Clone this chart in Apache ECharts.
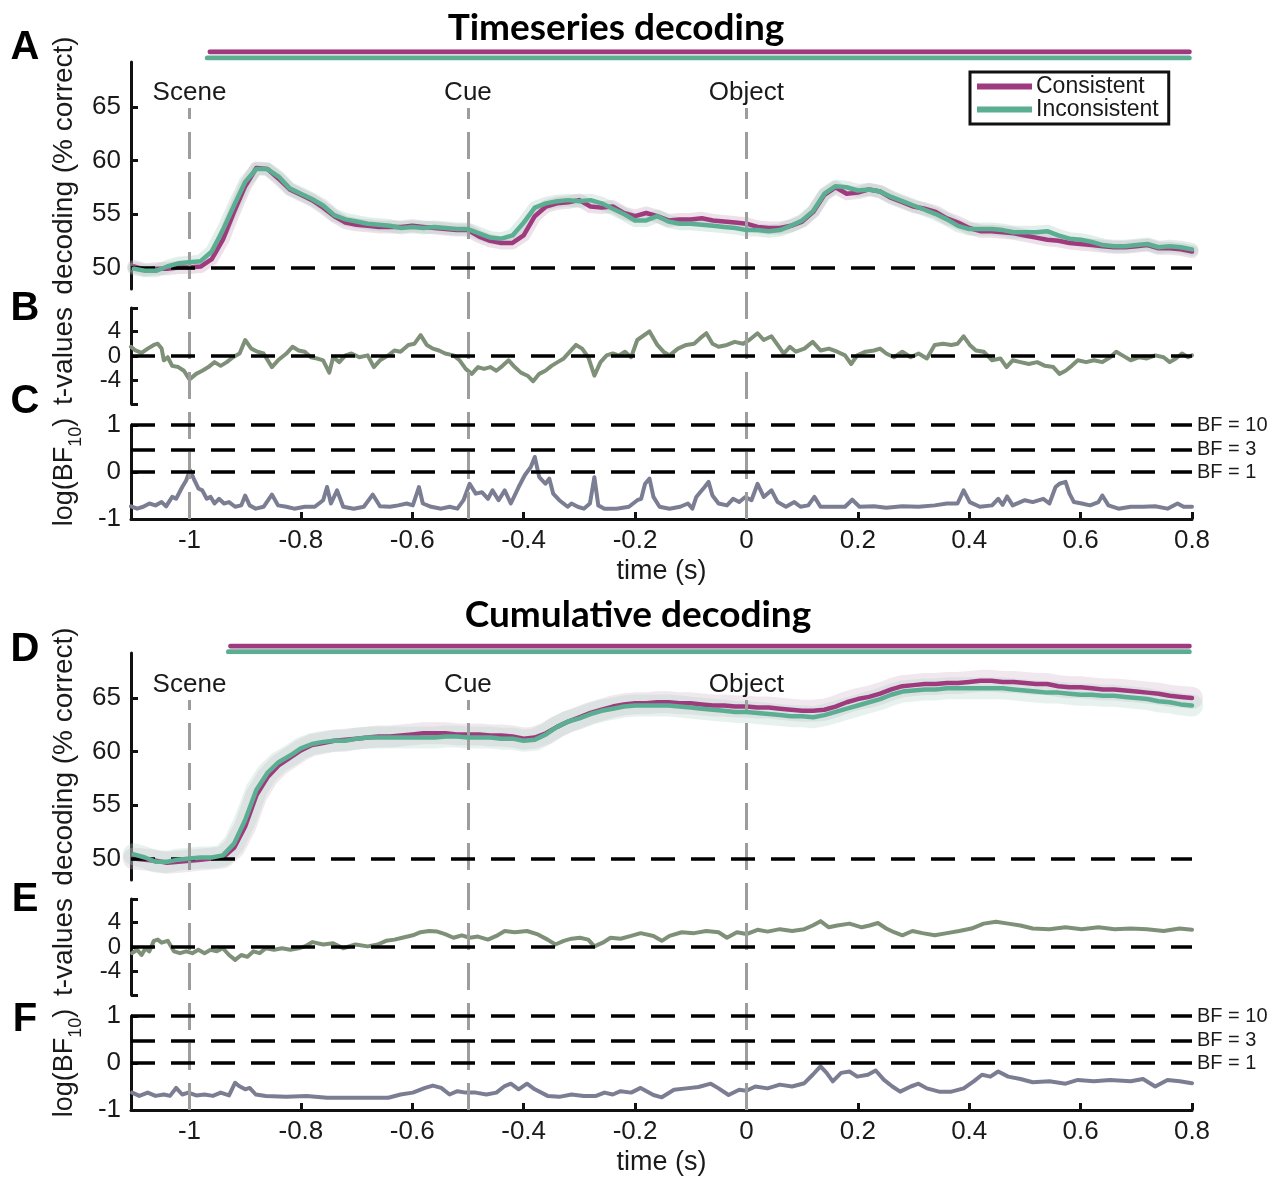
<!DOCTYPE html>
<html><head><meta charset="utf-8">
<script src="https://cdn.jsdelivr.net/npm/echarts@6/dist/echarts.min.js"></script>
<style>html,body{margin:0;padding:0;background:#fff}#c{width:1279px;height:1178px}</style>
</head><body><div id="c"></div>
<script>
// ---------------- DATA ----------------
const seriesNames = ['Consistent', 'Inconsistent'];
const eventTimes = [-1, -0.5, 0];
const eventNames = ['Scene', 'Cue', 'Object'];
const xTicks = [-1, -0.8, -0.6, -0.4, -0.2, 0, 0.2, 0.4, 0.6, 0.8];
const decodingTicks = [50, 55, 60, 65];
const tTicks = [-4, 0, 4];
const bfTicks = [-1, 0, 1];
const bfLevels = [1, 3, 10];
const chanceLevel = 50;

// significance periods [start, end] in s
const sigTimeseriesConsistent = [-0.963, 0.795];
const sigTimeseriesInconsistent = [-0.968, 0.795];
const sigCumulativeConsistent = [-0.926, 0.795];
const sigCumulativeInconsistent = [-0.930, 0.795];

// decoding time grid (s): -1.10 .. 0.80, step 0.02
const timeGrid = [];
for (let i = 0; i < 96; i++) timeGrid.push(+(-1.10 + 0.02 * i).toFixed(2));

// A: timeseries decoding (% correct)
const tsConsistent = [
  50.1, 49.8, 49.9, 49.9, 50.0, 50.0, 50.1, 50.8, 52.6, 55.2,
  57.6, 59.3, 59.2, 58.3, 57.3, 56.8, 56.3, 55.6, 54.8, 54.2,
  54.0, 53.9, 53.8, 53.8, 53.8, 53.9, 53.8, 53.7, 53.6, 53.5,
  53.5, 52.9, 52.5, 52.3, 52.3, 53.0, 54.8, 55.7, 56.0, 56.1,
  56.3, 55.7, 55.6, 55.7, 55.1, 54.8, 55.1, 54.8, 54.4, 54.5,
  54.5, 54.6, 54.4, 54.3, 54.2, 54.1, 53.8, 53.7, 53.7, 53.9,
  54.3, 55.2, 56.8, 57.5, 56.9, 57.0, 57.3, 57.1, 56.5, 56.1,
  55.7, 55.5, 55.2, 54.6, 54.2, 53.7, 53.4, 53.4, 53.3, 53.2,
  53.0, 52.8, 52.6, 52.5, 52.3, 52.2, 52.1, 52.0, 51.9, 51.9,
  52.0, 52.1, 51.8, 51.8, 51.7, 51.5];
const tsInconsistent = [
  49.9, 49.7, 49.7, 50.1, 50.4, 50.5, 50.6, 51.5, 53.5, 55.8,
  58.0, 59.2, 59.2, 58.5, 57.4, 56.9, 56.4, 55.8, 54.9, 54.5,
  54.3, 54.1, 54.0, 53.9, 53.7, 53.8, 53.7, 53.8, 53.7, 53.6,
  53.6, 53.2, 52.8, 52.7, 53.0, 54.2, 55.6, 56.0, 56.2, 56.3,
  56.2, 56.3, 56.0, 55.5, 55.0, 54.4, 54.4, 54.8, 54.3, 54.1,
  54.1, 54.0, 53.9, 53.8, 53.7, 53.5, 53.5, 53.4, 53.5, 53.9,
  54.4, 55.3, 56.9, 57.6, 57.5, 57.2, 57.3, 57.1, 56.6, 56.2,
  55.8, 55.4, 55.0, 54.5, 53.9, 53.6, 53.6, 53.6, 53.5, 53.3,
  53.3, 53.3, 53.4, 53.0, 52.7, 52.6, 52.4, 52.1, 52.0, 52.0,
  52.1, 52.2, 51.9, 52.0, 51.9, 51.7];

// D: cumulative decoding (% correct)
const cumConsistent = [
  50.0, 49.9, 49.8, 49.6, 49.7, 49.8, 49.9, 50.0, 50.1, 51.0,
  53.0, 55.9, 57.6, 58.7, 59.4, 60.1, 60.6, 60.8, 61.0, 61.1,
  61.2, 61.3, 61.4, 61.4, 61.5, 61.6, 61.7, 61.7, 61.7, 61.6,
  61.6, 61.6, 61.5, 61.5, 61.4, 61.2, 61.3, 61.7, 62.3, 62.8,
  63.2, 63.6, 63.9, 64.2, 64.4, 64.5, 64.5, 64.6, 64.6, 64.5,
  64.5, 64.4, 64.3, 64.3, 64.2, 64.2, 64.1, 64.1, 64.0, 63.9,
  63.8, 63.8, 63.9, 64.2, 64.6, 64.9, 65.1, 65.4, 65.8, 66.1,
  66.2, 66.3, 66.3, 66.4, 66.4, 66.5, 66.6, 66.6, 66.5, 66.5,
  66.4, 66.3, 66.3, 66.1, 66.0, 66.0, 65.9, 65.8, 65.8, 65.7,
  65.6, 65.5, 65.4, 65.2, 65.1, 65.0];
const cumInconsistent = [
  50.4, 50.1, 49.7, 49.7, 49.9, 50.0, 50.1, 50.1, 50.3, 51.4,
  53.6, 56.4, 58.0, 59.0, 59.6, 60.3, 60.7, 60.9, 61.0, 61.0,
  61.2, 61.3, 61.3, 61.3, 61.3, 61.3, 61.3, 61.3, 61.4, 61.4,
  61.3, 61.3, 61.3, 61.2, 61.2, 61.0, 61.1, 61.6, 62.3, 62.8,
  63.1, 63.5, 63.8, 64.0, 64.2, 64.3, 64.3, 64.3, 64.3, 64.2,
  64.1, 64.0, 63.9, 63.8, 63.7, 63.7, 63.6, 63.5, 63.4, 63.3,
  63.3, 63.2, 63.4, 63.7, 64.0, 64.3, 64.6, 64.9, 65.3, 65.6,
  65.7, 65.8, 65.8, 65.9, 65.9, 65.9, 65.9, 65.9, 65.9, 65.8,
  65.7, 65.6, 65.5, 65.5, 65.4, 65.3, 65.3, 65.2, 65.2, 65.1,
  65.0, 64.9, 64.7, 64.6, 64.4, 64.3];

// B: t-values timeseries [time, t]
const tValuesTS = [
  [-1.105,1.5],[-1.097,0.9],[-1.086,0.5],[-1.075,1.2],[-1.064,1.8],[-1.057,2.0],[-1.050,1.2],[-1.046,-0.7],[-1.039,-0.2],[-1.031,-1.6],
  [-1.020,-1.8],[-1.010,-2.4],[-1.000,-3.8],[-0.988,-2.9],[-0.977,-2.4],[-0.966,-1.8],[-0.955,-1.0],[-0.944,-1.6],[-0.933,-1.0],[-0.922,-0.2],
  [-0.910,0.4],[-0.900,2.6],[-0.889,1.2],[-0.878,0.7],[-0.867,0.4],[-0.852,-1.8],[-0.841,-0.7],[-0.826,0.4],[-0.815,1.5],[-0.804,0.9],
  [-0.793,0.7],[-0.782,-0.2],[-0.771,-0.4],[-0.760,-0.7],[-0.749,-2.7],[-0.742,-0.2],[-0.731,-1.0],[-0.720,0.1],[-0.709,0.4],[-0.695,-0.2],
  [-0.680,0.1],[-0.669,-1.8],[-0.658,-0.7],[-0.643,0.1],[-0.632,0.9],[-0.621,0.7],[-0.607,1.8],[-0.596,2.0],[-0.585,3.4],[-0.574,1.8],
  [-0.563,1.2],[-0.552,0.9],[-0.541,0.4],[-0.526,0.1],[-0.515,-0.7],[-0.504,-2.1],[-0.493,-2.9],[-0.482,-1.8],[-0.471,-2.1],[-0.460,-1.8],
  [-0.449,-2.4],[-0.438,-1.6],[-0.427,-0.7],[-0.416,-1.8],[-0.405,-2.7],[-0.393,-3.2],[-0.383,-4.1],[-0.372,-2.9],[-0.361,-2.4],[-0.350,-1.6],
  [-0.339,-1.0],[-0.328,-0.4],[-0.317,0.7],[-0.306,1.8],[-0.295,1.2],[-0.284,-0.2],[-0.273,-3.2],[-0.262,-1.0],[-0.251,0.1],[-0.240,0.4],
  [-0.229,0.1],[-0.218,0.7],[-0.207,-0.2],[-0.196,2.6],[-0.174,4.0],[-0.160,1.8],[-0.149,0.7],[-0.138,0.1],[-0.123,1.2],[-0.108,1.8],
  [-0.094,2.0],[-0.083,2.9],[-0.072,3.7],[-0.061,2.0],[-0.050,1.5],[-0.035,1.8],[-0.021,2.3],[-0.006,2.0],[0.005,2.6],[0.020,3.7],
  [0.031,2.6],[0.045,3.2],[0.056,1.8],[0.067,0.4],[0.078,1.5],[0.089,0.7],[0.104,1.2],[0.119,2.3],[0.133,0.9],[0.148,1.2],
  [0.163,0.7],[0.177,0.1],[0.188,-1.3],[0.199,0.1],[0.214,0.7],[0.229,0.9],[0.240,1.2],[0.251,0.4],[0.265,-0.2],[0.280,0.7],
  [0.295,-0.2],[0.309,0.4],[0.324,-0.4],[0.338,1.8],[0.353,2.0],[0.368,1.8],[0.379,2.0],[0.390,3.2],[0.401,1.8],[0.412,0.9],
  [0.426,0.7],[0.441,-0.7],[0.456,-0.4],[0.467,-1.8],[0.478,-0.7],[0.492,-1.0],[0.507,-1.3],[0.522,-1.0],[0.536,-1.6],[0.551,-1.8],
  [0.562,-2.9],[0.573,-2.4],[0.584,-1.6],[0.595,-0.7],[0.610,-1.0],[0.624,-0.7],[0.639,-1.0],[0.653,-0.2],[0.664,0.7],[0.675,0.1],
  [0.690,-0.7],[0.705,-0.2],[0.719,-0.4],[0.734,0.1],[0.749,-0.2],[0.760,-1.0],[0.771,-0.4],[0.782,0.4],[0.793,-0.2],[0.800,0.1]];

// C: log(BF10) timeseries [time, logBF]
const logBFTS = [
  [-1.105,-0.73],[-1.094,-0.78],[-1.083,-0.74],[-1.072,-0.67],[-1.061,-0.71],[-1.050,-0.64],[-1.042,-0.73],[-1.031,-0.53],[-1.024,-0.57],[-1.013,-0.32],
  [-1.006,-0.18],[-0.999,0.04],[-0.991,-0.18],[-0.984,-0.35],[-0.977,-0.39],[-0.969,-0.57],[-0.962,-0.53],[-0.955,-0.67],[-0.947,-0.57],[-0.938,-0.67],
  [-0.929,-0.64],[-0.918,-0.74],[-0.907,-0.71],[-0.900,-0.50],[-0.892,-0.71],[-0.881,-0.78],[-0.867,-0.74],[-0.852,-0.48],[-0.841,-0.71],[-0.826,-0.74],
  [-0.812,-0.78],[-0.793,-0.74],[-0.775,-0.74],[-0.760,-0.60],[-0.753,-0.32],[-0.746,-0.67],[-0.735,-0.39],[-0.724,-0.74],[-0.705,-0.78],[-0.687,-0.74],
  [-0.671,-0.48],[-0.658,-0.73],[-0.640,-0.74],[-0.625,-0.71],[-0.610,-0.67],[-0.599,-0.71],[-0.588,-0.32],[-0.581,-0.67],[-0.566,-0.74],[-0.548,-0.78],
  [-0.533,-0.74],[-0.519,-0.78],[-0.508,-0.60],[-0.497,-0.25],[-0.486,-0.46],[-0.475,-0.43],[-0.464,-0.57],[-0.456,-0.39],[-0.445,-0.60],[-0.434,-0.39],
  [-0.423,-0.67],[-0.409,-0.32],[-0.398,-0.07],[-0.387,0.11],[-0.380,0.32],[-0.372,-0.11],[-0.361,-0.25],[-0.354,-0.14],[-0.347,-0.46],[-0.336,-0.60],
  [-0.321,-0.74],[-0.314,-0.67],[-0.303,-0.74],[-0.292,-0.78],[-0.281,-0.67],[-0.273,-0.11],[-0.266,-0.71],[-0.255,-0.78],[-0.233,-0.78],[-0.211,-0.74],
  [-0.196,-0.60],[-0.189,-0.57],[-0.182,-0.25],[-0.174,-0.14],[-0.167,-0.53],[-0.156,-0.74],[-0.138,-0.78],[-0.119,-0.74],[-0.105,-0.67],[-0.097,-0.78],
  [-0.090,-0.53],[-0.083,-0.43],[-0.075,-0.32],[-0.068,-0.21],[-0.061,-0.50],[-0.050,-0.67],[-0.035,-0.71],[-0.024,-0.57],[-0.013,-0.64],[-0.002,-0.53],
  [0.009,-0.60],[0.020,-0.25],[0.031,-0.53],[0.045,-0.39],[0.056,-0.64],[0.071,-0.74],[0.086,-0.64],[0.097,-0.74],[0.111,-0.71],[0.122,-0.53],
  [0.133,-0.74],[0.155,-0.74],[0.177,-0.74],[0.190,-0.59],[0.203,-0.74],[0.229,-0.73],[0.251,-0.76],[0.280,-0.73],[0.309,-0.74],[0.338,-0.71],
  [0.360,-0.67],[0.379,-0.67],[0.390,-0.39],[0.401,-0.64],[0.419,-0.74],[0.441,-0.71],[0.452,-0.57],[0.460,-0.70],[0.468,-0.52],[0.478,-0.71],
  [0.500,-0.60],[0.514,-0.64],[0.533,-0.57],[0.544,-0.67],[0.555,-0.32],[0.562,-0.25],[0.573,-0.21],[0.580,-0.46],[0.588,-0.64],[0.602,-0.67],
  [0.617,-0.71],[0.632,-0.64],[0.639,-0.50],[0.650,-0.71],[0.668,-0.78],[0.690,-0.74],[0.712,-0.74],[0.734,-0.73],[0.756,-0.78],[0.774,-0.67],
  [0.785,-0.74],[0.800,-0.74]];

// E: t-values cumulative [time, t]
const tValuesCum = [
  [-1.103,-1.0],[-1.094,-0.45],[-1.086,-1.3],[-1.079,-0.2],[-1.072,-0.7],[-1.064,1.0],[-1.057,1.2],[-1.050,0.7],[-1.039,1.0],[-1.028,-0.7],
  [-1.017,-1.0],[-1.006,-0.7],[-0.995,-1.0],[-0.984,-0.45],[-0.973,-1.0],[-0.962,-0.45],[-0.951,-0.7],[-0.940,-0.2],[-0.929,-1.3],[-0.918,-2.1],
  [-0.907,-1.3],[-0.896,-1.6],[-0.885,-0.7],[-0.874,-1.0],[-0.863,-0.2],[-0.848,-0.45],[-0.834,-0.2],[-0.819,-0.45],[-0.804,-0.2],[-0.793,0.1],
  [-0.779,0.8],[-0.760,0.4],[-0.742,0.6],[-0.724,-0.2],[-0.702,0.4],[-0.680,0.1],[-0.662,0.4],[-0.647,1.0],[-0.632,1.2],[-0.618,1.5],
  [-0.599,1.9],[-0.585,2.4],[-0.570,2.6],[-0.555,2.5],[-0.541,2.1],[-0.526,1.5],[-0.511,1.9],[-0.497,1.5],[-0.482,1.7],[-0.464,1.2],
  [-0.449,1.8],[-0.434,2.6],[-0.416,2.4],[-0.394,2.6],[-0.376,2.1],[-0.357,1.2],[-0.343,0.4],[-0.328,1.0],[-0.314,1.35],[-0.299,1.5],
  [-0.284,1.2],[-0.273,0.1],[-0.258,0.7],[-0.244,1.5],[-0.226,1.35],[-0.207,1.8],[-0.190,2.25],[-0.167,1.8],[-0.152,1.0],[-0.138,1.8],
  [-0.116,2.4],[-0.094,2.25],[-0.072,2.6],[-0.050,2.4],[-0.035,1.5],[-0.017,2.4],[0.000,2.1],[0.020,2.8],[0.038,2.5],[0.060,2.9],
  [0.082,2.6],[0.104,2.9],[0.119,3.5],[0.133,4.2],[0.148,3.2],[0.163,3.5],[0.185,3.8],[0.207,3.2],[0.221,3.5],[0.236,3.9],
  [0.251,3.0],[0.265,2.4],[0.280,1.9],[0.298,2.6],[0.316,2.25],[0.338,1.9],[0.360,2.25],[0.382,2.6],[0.404,3.0],[0.426,3.8],
  [0.448,4.1],[0.470,3.8],[0.492,3.5],[0.514,3.0],[0.544,2.9],[0.573,3.2],[0.602,2.9],[0.632,3.2],[0.661,2.9],[0.690,3.0],
  [0.719,2.9],[0.749,2.6],[0.778,3.0],[0.800,2.8]];

// F: log(BF10) cumulative [time, logBF]
const logBFCum = [
  [-1.103,-0.63],[-1.090,-0.70],[-1.075,-0.63],[-1.061,-0.70],[-1.046,-0.67],[-1.035,-0.70],[-1.024,-0.53],[-1.013,-0.67],[-1.002,-0.63],[-0.988,-0.69],
  [-0.973,-0.67],[-0.958,-0.70],[-0.944,-0.63],[-0.929,-0.69],[-0.918,-0.42],[-0.911,-0.49],[-0.900,-0.56],[-0.892,-0.53],[-0.881,-0.67],[-0.863,-0.70],
  [-0.826,-0.72],[-0.790,-0.70],[-0.753,-0.74],[-0.716,-0.74],[-0.680,-0.74],[-0.643,-0.74],[-0.621,-0.67],[-0.599,-0.63],[-0.577,-0.53],[-0.563,-0.48],
  [-0.548,-0.53],[-0.533,-0.67],[-0.519,-0.60],[-0.504,-0.63],[-0.486,-0.63],[-0.467,-0.67],[-0.449,-0.63],[-0.434,-0.49],[-0.423,-0.44],[-0.409,-0.56],
  [-0.394,-0.44],[-0.380,-0.56],[-0.357,-0.70],[-0.336,-0.72],[-0.314,-0.67],[-0.292,-0.70],[-0.270,-0.70],[-0.255,-0.63],[-0.240,-0.67],[-0.226,-0.60],
  [-0.207,-0.63],[-0.190,-0.53],[-0.167,-0.68],[-0.152,-0.73],[-0.130,-0.57],[-0.108,-0.54],[-0.086,-0.51],[-0.064,-0.44],[-0.050,-0.54],[-0.032,-0.68],
  [-0.013,-0.57],[0.000,-0.59],[0.016,-0.50],[0.038,-0.54],[0.060,-0.46],[0.082,-0.50],[0.104,-0.43],[0.119,-0.25],[0.133,-0.07],[0.144,-0.21],
  [0.155,-0.39],[0.170,-0.21],[0.185,-0.18],[0.199,-0.29],[0.218,-0.25],[0.232,-0.16],[0.247,-0.36],[0.262,-0.50],[0.276,-0.61],[0.295,-0.50],
  [0.309,-0.44],[0.324,-0.54],[0.346,-0.61],[0.368,-0.61],[0.390,-0.54],[0.408,-0.39],[0.423,-0.25],[0.438,-0.29],[0.452,-0.18],[0.470,-0.29],
  [0.492,-0.34],[0.514,-0.41],[0.544,-0.39],[0.573,-0.44],[0.595,-0.36],[0.624,-0.39],[0.653,-0.36],[0.690,-0.39],[0.712,-0.34],[0.734,-0.50],
  [0.756,-0.36],[0.778,-0.39],[0.800,-0.43]];

// ---------------- STYLE / LAYOUT ----------------
const FONT = 'Arial, "Liberation Sans", Helvetica, sans-serif';
const TXT = '#1a1a1a';
const C_CONS = '#a03a7e';
const C_INC = '#5bae92';
const C_T = '#7f9079';
const C_BF = '#7b7e93';
const X_MIN = -1.105, X_MAX = 0.8;
const L = 131, W = 1061;
// grids: A, B, C, D, E, F, vertical-overlay 1, 2, significance 1, 2
const gridBoxes = [[62,227],[308,96],[425,94],[653,227],[899,96],[1016,94],[108,411],[700,410],[51.7,6.3],[646,5.7]];

const zip = vals => vals.map((v, i) => [timeGrid[i], v]);
const sigData = (range, level) => range.map(t => [t, level]);

const grid = gridBoxes.map(b => ({left: L, top: b[0], width: W, height: b[1]}));

const xAxis = gridBoxes.map((b, i) => {
  const shown = (i === 2 || i === 5);
  const ax = {gridIndex: i, type: 'value', min: X_MIN, max: X_MAX, show: shown, splitLine: {show: false}};
  if (shown) Object.assign(ax, {
    axisLine: {show: true, onZero: false, lineStyle: {color: '#111', width: 3}},
    axisTick: {show: true, inside: true, length: 7, customValues: xTicks, lineStyle: {color: '#111', width: 3}},
    axisLabel: {show: true, customValues: xTicks, fontSize: 26, color: TXT, fontFamily: FONT, margin: 9},
    name: 'time (s)', nameLocation: 'middle', nameGap: 39,
    nameTextStyle: {fontSize: 27, color: TXT, fontFamily: FONT}
  });
  return ax;
});

function yAx(i, min, max, ticks, labels, name, gap, nameStyle, labelSize) {
  return {
    gridIndex: i, type: 'value', min, max,
    splitLine: {show: false},
    axisLine: {show: true, onZero: false, lineStyle: {color: '#111', width: 3}},
    axisTick: {show: true, inside: true, length: 7, customValues: ticks, lineStyle: {color: '#111', width: 3}},
    axisLabel: {show: true, customValues: labels, fontSize: labelSize || 26, color: TXT, fontFamily: FONT, margin: 10},
    name, nameLocation: 'middle', nameGap: gap,
    nameTextStyle: Object.assign({fontSize: 28, color: TXT, fontFamily: FONT}, nameStyle || {})
  };
}
const bfName = '{a|log(BF}{s|10}{a|)}';
const bfNameStyle = {rich: {a: {fontSize: 27, color: TXT, fontFamily: FONT, lineHeight: 32, verticalAlign: 'middle'},
                            s: {fontSize: 18, color: TXT, fontFamily: FONT, lineHeight: 32, verticalAlign: 'bottom', padding: [0, 0, -4, 0]}}};
const hiddenY = i => ({gridIndex: i, type: 'value', min: 0, max: 1, show: false, splitLine: {show: false}});
const decName = {padding: [0, 0, 0, 20]};
const yAxis = [
  yAx(0, 48, 69.2, decodingTicks, decodingTicks, 'decoding (% correct)', 53, decName),
  yAx(1, -7.8, 7.8, [-7.8].concat(tTicks, [7.8]), tTicks, 't-values', 53, null, 24),
  yAx(2, -1, 1, bfTicks, bfTicks, bfName, 50, bfNameStyle),
  yAx(3, 48, 69.2, decodingTicks, decodingTicks, 'decoding (% correct)', 53, decName),
  yAx(4, -7.8, 7.8, [-7.8].concat(tTicks, [7.8]), tTicks, 't-values', 53, null, 24),
  yAx(5, -1, 1, bfTicks, bfTicks, bfName, 50, bfNameStyle),
  hiddenY(6), hiddenY(7), hiddenY(8), hiddenY(9)
];

const dashBlack = {color: '#000', width: 3.5, type: [24, 16]};
function refSeries(gi, marks) {
  return {type: 'line', xAxisIndex: gi, yAxisIndex: gi, data: [], silent: true, z: 1, symbol: 'none',
    markLine: {symbol: ['none', 'none'], silent: true, animation: false, lineStyle: dashBlack,
      label: {show: false}, data: marks}};
}
function bfMarks() {
  return bfLevels.map(b => ({yAxis: Math.log10(b),
    label: {show: true, position: 'end', formatter: 'BF = ' + b, fontSize: 20, color: TXT, fontFamily: FONT, distance: 5}}));
}
function eventSeries(gi) {
  return {type: 'line', xAxisIndex: gi, yAxisIndex: gi, data: [], silent: true, z: 0, symbol: 'none',
    markLine: {symbol: ['none', 'none'], silent: true, animation: false,
      lineStyle: {color: '#9d9d9d', width: 3, type: [27, 13]},
      label: {show: true, position: 'end', fontSize: 26, color: TXT, fontFamily: FONT, distance: 2},
      data: eventTimes.map((t, k) => ({xAxis: t, label: {formatter: eventNames[k]}}))}};
}
function line(gi, name, data, color, width, z, opacity) {
  return {type: 'line', name, xAxisIndex: gi, yAxisIndex: gi, data, symbol: 'none', showSymbol: false,
    color, silent: true, z, animation: false,
    lineStyle: {color, width, opacity: opacity == null ? 1 : opacity, join: 'round', cap: 'round'}};
}

const series = [
  eventSeries(6), eventSeries(7),
  refSeries(0, [{yAxis: chanceLevel}]), refSeries(1, [{yAxis: 0}]), refSeries(2, bfMarks()),
  refSeries(3, [{yAxis: chanceLevel}]), refSeries(4, [{yAxis: 0}]), refSeries(5, bfMarks()),
  // error halos
  line(0, 'semC', zip(tsConsistent), '#c9a9bf', 13, 2, 0.35),
  line(0, 'semI', zip(tsInconsistent), '#a9cfc0', 13, 2, 0.35),
  line(3, 'semC2', zip(cumConsistent), '#cdb3c6', 22, 2, 0.3),
  line(3, 'semI2', zip(cumInconsistent), '#b1d3c6', 22, 2, 0.3),
  // main lines
  line(0, seriesNames[0], zip(tsConsistent), C_CONS, 4.5, 4),
  line(0, seriesNames[1], zip(tsInconsistent), C_INC, 4.5, 5),
  line(3, seriesNames[0], zip(cumConsistent), C_CONS, 4.5, 4),
  line(3, seriesNames[1], zip(cumInconsistent), C_INC, 4.5, 5),
  line(1, 't-values', tValuesTS, C_T, 4, 4),
  line(2, 'logBF', logBFTS, C_BF, 4, 4),
  line(4, 't-values cum', tValuesCum, C_T, 4, 4),
  line(5, 'logBF cum', logBFCum, C_BF, 4, 4),
  // significance bars
  line(8, 'sigC1', sigData(sigTimeseriesConsistent, 1), C_CONS, 5, 4),
  line(8, 'sigI1', sigData(sigTimeseriesInconsistent, 0), C_INC, 5, 4),
  line(9, 'sigC2', sigData(sigCumulativeConsistent, 1), C_CONS, 5, 4),
  line(9, 'sigI2', sigData(sigCumulativeInconsistent, 0), C_INC, 5, 4)
];

const letters = [['A', 48], ['B', 309], ['C', 402], ['D', 650], ['E', 900], ['F', 1020]];
const graphic = letters.map(l => ({type: 'text', x: 25, y: l[1], silent: true,
  style: {text: l[0], fontSize: 40, fontWeight: 'bold', fontFamily: FONT, fill: '#000', align: 'center', verticalAlign: 'middle'}}))
  .concat([
    {type: 'text', x: 616, y: 28, silent: true, style: {text: 'Timeseries decoding', fontSize: 37, fontWeight: 'bold', fontFamily: 'Lato', fill: '#000', align: 'center', verticalAlign: 'middle'}},
    {type: 'text', x: 638, y: 615, silent: true, style: {text: 'Cumulative decoding', fontSize: 37, fontWeight: 'bold', fontFamily: 'Lato', fill: '#000', align: 'center', verticalAlign: 'middle'}}
  ]);

const chart = echarts.init(document.getElementById('c'), null, {renderer: 'canvas'});
chart.setOption({
  animation: false,
  backgroundColor: '#fff',
  grid, xAxis, yAxis, series, graphic,
  legend: {
    data: seriesNames, orient: 'vertical', left: 970, top: 72,
    icon: 'rect', itemWidth: 55, itemHeight: 6, itemGap: 0,
    padding: [3, 10, 3, 7], borderColor: '#111', borderWidth: 3, borderRadius: 0,
    backgroundColor: '#fff', selectedMode: false,
    textStyle: {fontSize: 23, color: TXT, fontFamily: FONT, padding: [0, 0, 0, -1]}
  }
});
</script></body></html>
